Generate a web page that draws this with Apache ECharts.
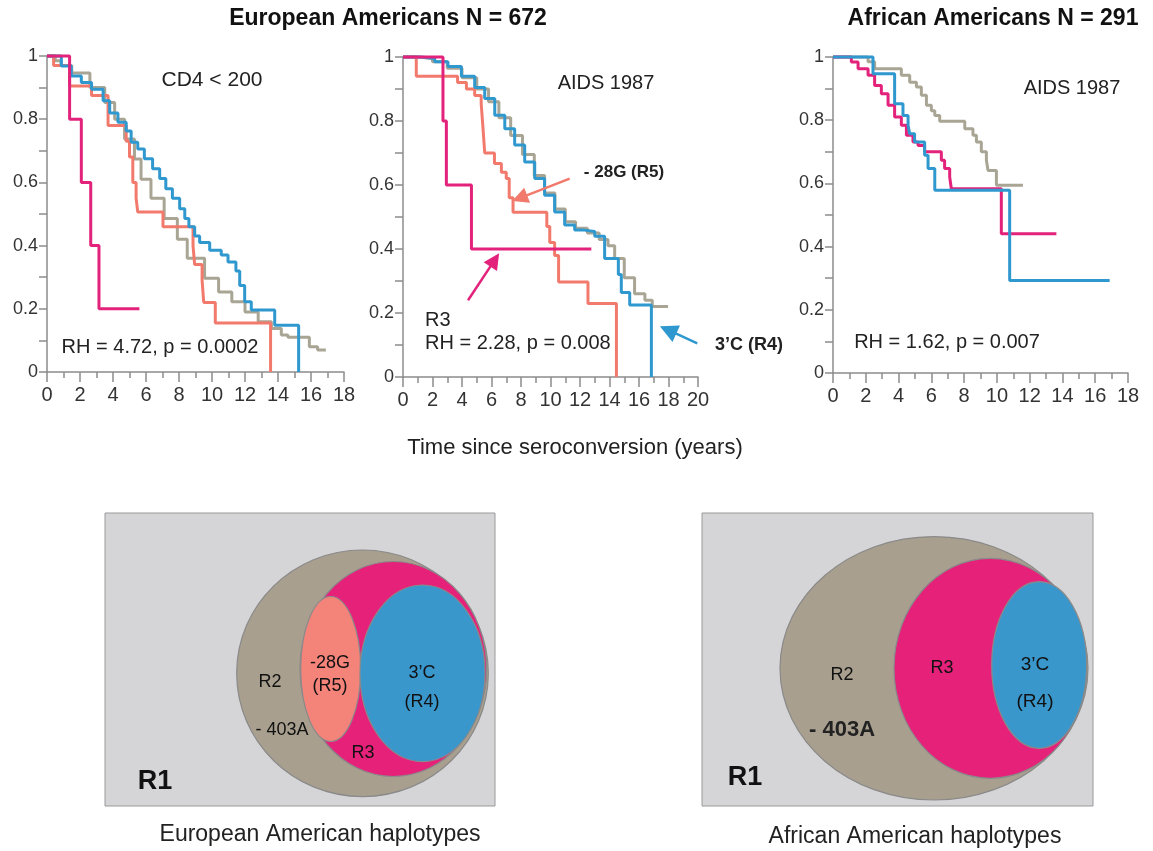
<!DOCTYPE html>
<html>
<head>
<meta charset="utf-8">
<script src="https://cdn.jsdelivr.net/npm/echarts@6/dist/echarts.min.js"></script>
<style>
  html, body { margin: 0; background: #fff; }
  #main { width: 1153px; height: 851px; }
</style>
</head>
<body>
<div id="main"></div>
<script>
// Kaplan-Meier curves, [years, survival] (value holds until the next time)
// European Americans, CD4 < 200
const eaCd4Grey = [[0,1],[0.5,0.985],[0.85,0.97],[1.5,0.946],[2.6,0.9],[3.5,0.853],[4.1,0.8],[4.7,0.737],
  [5.3,0.674],[5.7,0.61],[6.3,0.55],[7.1,0.486],[7.9,0.42],[8.5,0.36],[9.55,0.297],[10.4,0.253],[11.2,0.222],
  [12.0,0.19],[12.8,0.159],[13.6,0.138],[14.2,0.117],[14.6,0.11],[15.9,0.08],[16.4,0.07],[16.9,0.07]];
const eaCd4Salmon = [[0,1],[0.4,0.97],[1.37,0.905],[2.7,0.875],[3.7,0.78],[4.8,0.73],[5.0,0.68],[5.2,0.6],
  [5.4,0.55],[5.5,0.506],[7.03,0.46],[8.85,0.40],[8.95,0.34],[9.4,0.29],[9.5,0.22],[10.2,0.155],[13.55,0]];
const eaCd4Blue = [[0,1],[0.87,0.968],[1.47,0.937],[2.08,0.916],[2.7,0.895],[3.4,0.858],[3.8,0.82],[4.3,0.79],
  [4.8,0.763],[5.1,0.727],[5.5,0.706],[5.9,0.675],[6.4,0.643],[6.83,0.612],[7.2,0.58],[7.6,0.55],[8.04,0.517],
  [8.35,0.486],[8.6,0.46],[8.95,0.43],[9.25,0.41],[9.86,0.385],[10.56,0.37],[10.97,0.348],[11.45,0.32],
  [11.68,0.274],[11.98,0.222],[12.38,0.196],[13.8,0.148],[15.25,0]];
const eaCd4Magenta = [[0,1],[1.37,0.8],[2.08,0.6],[2.65,0.4],[3.15,0.2],[5.6,0.2]];

// European Americans, AIDS 1987
const eaAidsGrey = [[0,1],[1.0,0.995],[2.0,0.985],[3.0,0.965],[4.0,0.935],[5.0,0.9],[5.8,0.86],[6.5,0.81],
  [7.3,0.755],[8.1,0.695],[8.9,0.63],[9.6,0.575],[10.3,0.525],[11.0,0.485],[11.7,0.465],[12.5,0.45],
  [13.3,0.43],[13.9,0.41],[14.35,0.37],[15.0,0.31],[15.7,0.26],[16.4,0.24],[16.9,0.22],[17.97,0.22]];
const eaAidsSalmon = [[0,1],[0.9,0.94],[3.7,0.92],[4.3,0.9],[4.86,0.88],[5.3,0.855],[5.42,0.78],[5.54,0.70],
  [6.2,0.667],[6.67,0.64],[7.0,0.62],[7.2,0.56],[7.46,0.515],[9.75,0.47],[9.95,0.42],[10.28,0.38],
  [10.55,0.297],[12.54,0.23],[14.47,0]];
const eaAidsBlue = [[0,1],[1.25,0.995],[2.15,0.985],[3.05,0.97],[3.96,0.94],[4.86,0.905],[5.54,0.87],
  [6.22,0.818],[6.9,0.776],[7.57,0.725],[8.25,0.672],[8.93,0.62],[9.6,0.568],[10.28,0.516],[10.96,0.475],
  [11.64,0.459],[12.3,0.455],[13.0,0.44],[13.67,0.37],[14.6,0.32],[14.8,0.264],[15.37,0.225],[16.84,0]];
const eaAidsMagenta = [[0,1],[2.71,0.8],[2.94,0.6],[4.64,0.4],[12.77,0.4]];

// African Americans, AIDS 1987
const aaAidsGrey = [[0,1],[2.14,0.985],[2.54,0.963],[4.17,0.942],[4.68,0.92],[5.09,0.905],[5.39,0.879],
  [5.7,0.847],[6.0,0.83],[6.21,0.815],[6.51,0.797],[8.04,0.773],[8.54,0.752],[8.75,0.731],[9.05,0.70],
  [9.36,0.673],[9.46,0.641],[9.97,0.594],[11.59,0.594]];
const aaAidsBlue = [[0,1],[2.44,0.947],[3.76,0.852],[4.27,0.815],[4.58,0.784],[4.68,0.757],[4.98,0.731],
  [5.59,0.689],[5.80,0.647],[6.21,0.578],[10.78,0.293],[16.88,0.293]];
const aaAidsMagenta = [[0,1],[1.12,0.984],[1.53,0.963],[2.14,0.942],[2.54,0.91],[2.95,0.884],[3.36,0.847],
  [3.76,0.81],[4.17,0.784],[4.48,0.752],[4.88,0.731],[5.19,0.72],[5.59,0.70],[6.61,0.673],[6.81,0.647],
  [7.12,0.62],[7.22,0.583],[10.27,0.441],[13.63,0.441]];

// arrows in the middle panel: [from, to]
const arrowR3 = [[4.41,0.24],[6.22,0.366]];
const arrowR5 = [[11.3,0.62],[7.91,0.559]];
const arrowR4 = [[19.95,0.105],[17.97,0.147]];

// Venn ellipses: [cx, cy, rx, ry, colour index] in box units
const euVenn = [[257.5,160.3,125.8,123.3,0],[288.3,156,93.3,107.5,1],[225.7,156,30,72.5,2],[317.5,160.3,62.5,88.3,3]];
const afVenn = [[232,155.3,154,131.7,0],[288.3,155.3,96.3,110,1],[337.2,152,47.5,83.3,3]];

const FONT = '"Liberation Sans", Arial, Helvetica, sans-serif';
const C_GREY = '#a9a594', C_SALMON = '#f27a6d', C_BLUE = '#2f98cf', C_MAG = '#e3237b';
const vennColors = ['#a89f8f', '#e6217a', '#f4837a', '#3a97cc'];
const AXIS = '#8c8c8c';

var chart = echarts.init(document.getElementById('main'));

function xAx(gi, max) {
  return {
    gridIndex: gi, type: 'value', min: 0, max: max, interval: 2,
    axisLine: {show: true, onZero: false, lineStyle: {color: AXIS, width: 1.5}},
    axisTick: {show: true, length: 10, lineStyle: {color: AXIS, width: 1.5}},
    minorTick: {show: true, splitNumber: 2, length: 6, lineStyle: {color: AXIS, width: 1.5}},
    splitLine: {show: false},
    axisLabel: {fontSize: 20, color: '#333', margin: 13, fontFamily: FONT}
  };
}
function yAx(gi) {
  return {
    gridIndex: gi, type: 'value', min: 0, max: 1, interval: 0.2,
    axisLine: {show: true, onZero: false, lineStyle: {color: AXIS, width: 1.5}},
    axisTick: {show: true, length: 8, lineStyle: {color: AXIS, width: 1.5}},
    minorTick: {show: true, splitNumber: 2, length: 8, lineStyle: {color: AXIS, width: 1.5}},
    splitLine: {show: false},
    axisLabel: {fontSize: 18, color: '#333', margin: 9, fontFamily: FONT,
      formatter: function (v) { return (v === 0 || v === 1) ? String(v) : v.toFixed(1); }}
  };
}
function km(gi, data, color, extra) {
  var s = {
    type: 'line', xAxisIndex: gi, yAxisIndex: gi, step: 'end', data: data,
    showSymbol: false, symbol: 'none', silent: true, animation: false, clip: false,
    lineStyle: {color: color, width: 3}
  };
  return Object.assign(s, extra || {});
}
function arrow(a, color, size) {
  return {
    silent: true, animation: false, symbol: ['none', 'triangle'], symbolSize: size,
    label: {show: false}, lineStyle: {color: color, width: 2.5, type: 'solid'},
    data: [[{coord: a[0]}, {coord: a[1]}]]
  };
}
function vennAxes(gi, w, h) {
  return [
    {gridIndex: gi, type: 'value', min: 0, max: w, show: false},
    {gridIndex: gi, type: 'value', min: 0, max: h, inverse: true, show: false}
  ];
}
function venn(gi, shapes) {
  return {
    type: 'custom', xAxisIndex: gi, yAxisIndex: gi, silent: true, animation: false, clip: false,
    data: shapes, encode: {x: 0, y: 1},
    renderItem: function (params, api) {
      var c = api.coord([api.value(0), api.value(1)]);
      var s = api.size([api.value(2), api.value(3)]);
      return {
        type: 'ellipse',
        shape: {cx: c[0], cy: c[1], rx: s[0], ry: s[1]},
        style: {fill: vennColors[api.value(4)], stroke: '#8a8a8a', lineWidth: 1.2}
      };
    }
  };
}
function txt(t, x, y, size, opts) {
  opts = opts || {};
  return {
    type: 'text', silent: true, z: 100,
    style: {
      text: t, x: x, y: y, fill: opts.color || '#222',
      font: (opts.bold ? 'bold ' : '') + size + 'px ' + FONT,
      align: opts.align || 'center', verticalAlign: 'middle'
    }
  };
}

var vx = vennAxes(3, 390, 293), vx2 = vennAxes(4, 391, 293);

option = {
  backgroundColor: '#fff',
  grid: [
    {left: 47, top: 56, width: 297, height: 316},
    {left: 403, top: 57, width: 295, height: 320},
    {left: 833, top: 57, width: 295, height: 316},
    {left: 105, top: 513, width: 390, height: 293, show: true, backgroundColor: '#d5d5d7', borderColor: '#9a9a9a', borderWidth: 1},
    {left: 702, top: 513, width: 391, height: 293, show: true, backgroundColor: '#d5d5d7', borderColor: '#9a9a9a', borderWidth: 1}
  ],
  xAxis: [xAx(0, 18), xAx(1, 20), xAx(2, 18), vx[0], vx2[0]],
  yAxis: [yAx(0), yAx(1), yAx(2), vx[1], vx2[1]],
  series: [
    km(0, eaCd4Grey, C_GREY), km(0, eaCd4Salmon, C_SALMON), km(0, eaCd4Blue, C_BLUE), km(0, eaCd4Magenta, C_MAG),
    km(1, eaAidsGrey, C_GREY),
    km(1, eaAidsSalmon, C_SALMON, {markLine: arrow(arrowR5, C_SALMON, 16)}),
    km(1, eaAidsBlue, C_BLUE, {markLine: arrow(arrowR4, C_BLUE, 18)}),
    km(1, eaAidsMagenta, C_MAG, {markLine: arrow(arrowR3, C_MAG, 16)}),
    km(2, aaAidsGrey, C_GREY), km(2, aaAidsMagenta, C_MAG), km(2, aaAidsBlue, C_BLUE),
    venn(3, euVenn), venn(4, afVenn)
  ],
  graphic: [
    txt('European Americans N = 672', 388, 19, 23, {bold: true, color: '#111'}),
    txt('African Americans N = 291', 993, 19, 23, {bold: true, color: '#111'}),
    txt('CD4 < 200', 212, 80, 21),
    txt('RH = 4.72, p = 0.0002', 160, 347, 20),
    txt('AIDS 1987', 606, 83, 20),
    txt('- 28G (R5)', 624, 172, 17, {bold: true}),
    txt('R3', 425, 320, 20, {align: 'left'}),
    txt('RH = 2.28, p = 0.008', 425, 343, 20, {align: 'left'}),
    txt('3’C (R4)', 749, 345, 18, {bold: true}),
    txt('AIDS 1987', 1072, 88, 20),
    txt('RH = 1.62, p = 0.007', 947, 342, 20),
    txt('Time since seroconversion (years)', 575, 448, 22),
    // European Venn
    txt('R2', 270, 682, 18, {color: '#111'}), txt('-28G', 330, 663, 18, {color: '#111'}), txt('(R5)', 330, 686, 18, {color: '#111'}),
    txt('3’C', 422, 673, 18, {color: '#111'}), txt('(R4)', 422, 702, 18, {color: '#111'}), txt('- 403A', 282, 730, 18, {color: '#111'}),
    txt('R3', 363, 753, 18, {color: '#111'}), txt('R1', 155, 782, 27, {bold: true, color: '#111'}),
    txt('European American haplotypes', 320, 835, 23),
    // African Venn
    txt('R2', 842, 675, 18, {color: '#111'}), txt('R3', 942, 668, 18, {color: '#111'}),
    txt('3’C', 1035, 665, 19, {color: '#111'}), txt('(R4)', 1035, 702, 19, {color: '#111'}),
    txt('- 403A', 842, 730, 22, {bold: true}), txt('R1', 745, 778, 27, {bold: true, color: '#111'}),
    txt('African American haplotypes', 915, 837, 23)
  ]
};

chart.setOption(option);
</script>
</body>
</html>
